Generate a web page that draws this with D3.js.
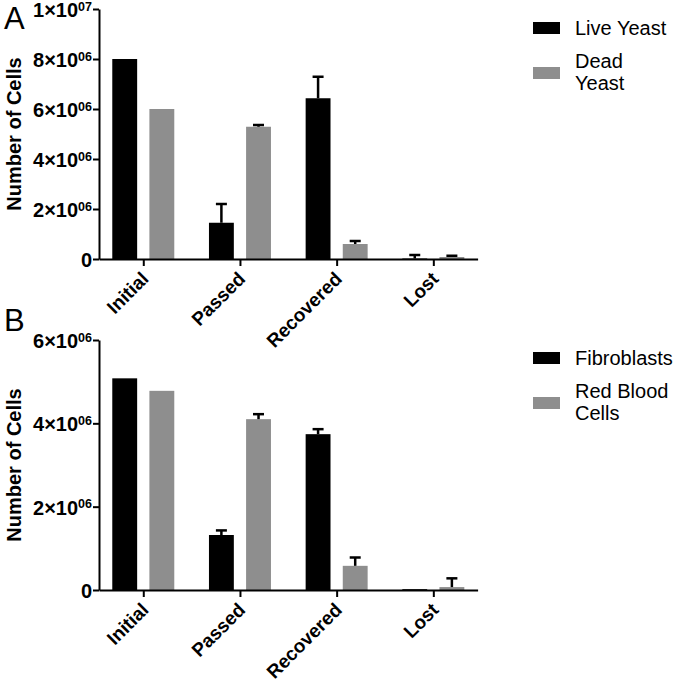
<!DOCTYPE html>
<html><head><meta charset="utf-8">
<script src="https://cdn.jsdelivr.net/npm/d3@7"></script>
<style>body{margin:0;background:#fff}svg{display:block;font-family:"Liberation Sans",Arial,sans-serif}</style>
</head><body>
<svg id="chart" width="677" height="684"></svg>
<script>
const categories = ["Initial", "Passed", "Recovered", "Lost"];
// Panel A
const liveYeast = [8.0e6, 1.45e6, 6.43e6, 0.02e6];
const liveYeastErr = [0, 0.75e6, 0.86e6, 0.14e6];
const deadYeast = [6.0e6, 5.29e6, 0.60e6, 0.08e6];
const deadYeastErr = [0, 0.07e6, 0.12e6, 0.05e6];
const ticksA = [0, 2e6, 4e6, 6e6, 8e6, 1e7];
// Panel B
const fibroblasts = [5.08e6, 1.32e6, 3.74e6, 0.02e6];
const fibroblastsErr = [0, 0.11e6, 0.12e6, 0];
const redBloodCells = [4.78e6, 4.10e6, 0.58e6, 0.07e6];
const redBloodCellsErr = [0, 0.12e6, 0.20e6, 0.21e6];
const ticksB = [0, 2e6, 4e6, 6e6];

const colors = ["#000000", "#8e8e8e"];
const svg = d3.select("#chart");

function drawPanel(opt) {
  const g = svg.append("g");
  const x = d3.scalePoint().domain(categories).range([99, 477.6]).padding(0.458);
  const xs = d3.scaleBand().domain([0, 1]).range([-31, 31]).paddingInner(0.33);
  const y = d3.scaleLinear().domain([0, opt.max]).range([opt.y0, opt.y1]);

  const series = [
    {vals: opt.s1, errs: opt.e1, c: colors[0]},
    {vals: opt.s2, errs: opt.e2, c: colors[1]}
  ];
  series.forEach((s, si) => {
    const data = categories.map((c, i) => ({c, v: s.vals[i], e: s.errs[i]}));
    g.selectAll(null).data(data).enter().append("rect")
      .attr("x", d => x(d.c) + xs(si))
      .attr("width", xs.bandwidth())
      .attr("y", d => y(d.v))
      .attr("height", d => y(0) - y(d.v))
      .attr("fill", s.c);
    const eb = data.filter(d => d.e > 0);
    const cx = d => x(d.c) + xs(si) + xs.bandwidth() / 2;
    g.selectAll(null).data(eb).enter().append("line")
      .attr("x1", cx).attr("x2", cx)
      .attr("y1", d => y(d.v)).attr("y2", d => y(d.v + d.e))
      .attr("stroke", "#000").attr("stroke-width", 2.5);
    g.selectAll(null).data(eb).enter().append("line")
      .attr("x1", d => cx(d) - 5.5).attr("x2", d => cx(d) + 5.5)
      .attr("y1", d => y(d.v + d.e)).attr("y2", d => y(d.v + d.e))
      .attr("stroke", "#000").attr("stroke-width", 2.5);
  });

  // Y axis
  const ya = g.append("g").attr("transform", "translate(99,0)")
    .call(d3.axisLeft(y).tickValues(opt.ticks).tickSize(6).tickSizeOuter(0).tickFormat(""));
  ya.select(".domain").attr("stroke-width", 2);
  ya.selectAll(".tick line").attr("stroke-width", 2);
  ya.selectAll(".tick").each(function(d) {
    const t = d3.select(this).append("text")
      .attr("x", -7).attr("y", 7.5)
      .attr("text-anchor", "end")
      .attr("font-size", 20).attr("font-weight", "bold").attr("fill", "#000");
    if (d === 0) { t.text("0"); return; }
    const e = Math.floor(Math.log10(d) + 1e-9);
    const m = Math.round(d / Math.pow(10, e));
    t.append("tspan").text(m + "\u00d7");
    t.append("tspan").text("10");
    t.append("tspan").attr("dy", -6.5).attr("font-size", 12.5).text(String(e).padStart(2, "0"));
  });

  // X axis
  const xa = g.append("g").attr("transform", `translate(0,${opt.y0})`)
    .call(d3.axisBottom(x).tickSize(7).tickSizeOuter(0).tickFormat(""));
  xa.select(".domain").attr("stroke-width", 2);
  xa.selectAll(".tick line").attr("stroke-width", 2);
  xa.selectAll(".tick").append("text")
    .attr("transform", "translate(6,21) rotate(-45)")
    .attr("text-anchor", "end")
    .attr("font-size", 19).attr("font-weight", "bold").attr("fill", "#000")
    .text(d => d);

  // Y label
  g.append("text")
    .attr("transform", `translate(21,${(opt.y0 + opt.y1) / 2}) rotate(-90)`)
    .attr("text-anchor", "middle")
    .attr("font-size", 20).attr("font-weight", "bold")
    .text("Number of Cells");

  // Panel letter
  g.append("text").attr("x", 4).attr("y", opt.letterY)
    .attr("font-size", 31).text(opt.letter);

  // Legend
  opt.legend.forEach((L, i) => {
    g.append("rect").attr("x", 533).attr("y", L.sy).attr("width", 27).attr("height", 12)
      .attr("fill", colors[i]);
    const t = g.append("text").attr("x", 575).attr("font-size", 20).attr("fill", "#000");
    L.lines.forEach((ln, j) => t.append("tspan").attr("x", 575).attr("y", L.ty + j * 22.5).text(ln));
  });
}

drawPanel({
  y0: 259, y1: 9, max: 1e7, ticks: ticksA,
  s1: liveYeast, e1: liveYeastErr, s2: deadYeast, e2: deadYeastErr,
  letter: "A", letterY: 29,
  legend: [
    {sy: 22, ty: 35, lines: ["Live Yeast"]},
    {sy: 67, ty: 67.5, lines: ["Dead", "Yeast"]}
  ]
});
drawPanel({
  y0: 590, y1: 340, max: 6e6, ticks: ticksB,
  s1: fibroblasts, e1: fibroblastsErr, s2: redBloodCells, e2: redBloodCellsErr,
  letter: "B", letterY: 331,
  legend: [
    {sy: 352, ty: 365, lines: ["Fibroblasts"]},
    {sy: 397, ty: 397.5, lines: ["Red Blood", "Cells"]}
  ]
});
</script>
</body></html>
